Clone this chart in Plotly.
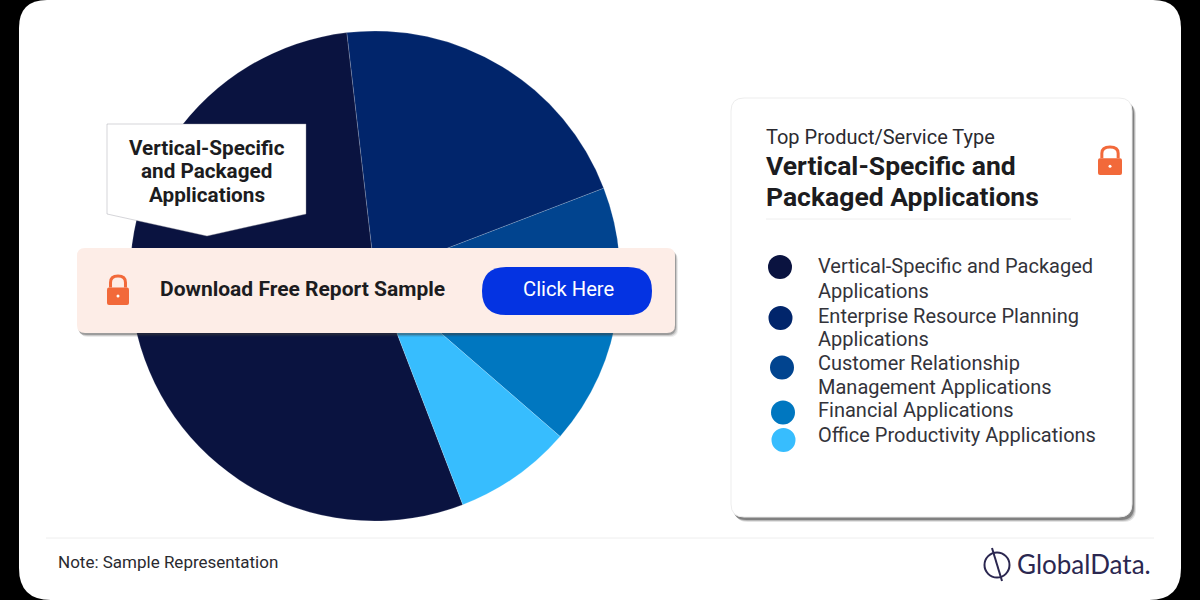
import plotly.graph_objects as go

categories = ["Vertical-Specific and Packaged Applications",
              "Enterprise Resource Planning Applications",
              "Customer Relationship Management Applications",
              "Financial Applications",
              "Office Productivity Applications"]
values = [54.0, 21.0, 7.9, 9.3, 7.8]
colors = ["#0A1340", "#01256B", "#01448F", "#0077C0", "#37BDFE"]
legend_lines = ["Vertical-Specific and Packaged", "Applications",
                "Enterprise Resource Planning", "Applications",
                "Customer Relationship", "Management Applications",
                "Financial Applications",
                "Office Productivity Applications"]
legend_line_y = [266, 291, 316, 339, 363, 387, 410, 435]
legend_dot = [(780, 267), (780.5, 318), (782, 367.5), (783, 412.5), (783.5, 440)]
callout_lines = ["Vertical-Specific", "and Packaged", "Applications"]
callout_y = [148, 171, 195]
title_lines = ["Vertical-Specific and", "Packaged Applications"]
title_y = [166, 196]

W, H = 1200, 600
FONT = "Roboto"
ORANGE = "#F2693A"


def X(v):
    return v / W


def Y(v):
    return 1 - v / H


def rr(x0, y0, x1, y1, r):
    """Rounded rectangle path in paper fractions; r is (tl, tr, br, bl) or a number."""
    tl, tr, br, bl = (r, r, r, r) if not isinstance(r, tuple) else r
    pts = [
        ("M", x0 + tl, y0), ("L", x1 - tr, y0), ("Q", x1, y0, x1, y0 + tr),
        ("L", x1, y1 - br), ("Q", x1, y1, x1 - br, y1),
        ("L", x0 + bl, y1), ("Q", x0, y1, x0, y1 - bl),
        ("L", x0, y0 + tl), ("Q", x0, y0, x0 + tl, y0),
    ]
    out = []
    for p in pts:
        c = p[0]
        co = p[1:]
        s = " ".join(f"{X(co[i]):.5f},{Y(co[i + 1]):.5f}" for i in range(0, len(co), 2))
        out.append(f"{c}{s}")
    return " ".join(out) + " Z"


def poly(points):
    return "M" + " L".join(f"{X(a):.5f},{Y(b):.5f}" for a, b in points) + " Z"


def path(d, fill, layer="above", line=None, lw=0):
    return dict(type="path", xref="paper", yref="paper", path=d, fillcolor=fill, layer=layer,
                line=dict(color=line or "rgba(0,0,0,0)", width=lw))


def circle(cx, cy, r, fill, line=None, lw=0, layer="above"):
    return dict(type="circle", xref="paper", yref="paper", x0=X(cx - r), x1=X(cx + r),
                y0=Y(cy + r), y1=Y(cy - r), fillcolor=fill, layer=layer,
                line=dict(color=line or "rgba(0,0,0,0)", width=lw))


def hline(x0, x1, y, color, width=1, layer="above"):
    return dict(type="line", xref="paper", yref="paper", x0=X(x0), x1=X(x1), y0=Y(y), y1=Y(y),
                layer=layer, line=dict(color=color, width=width))


def lock(x0, y0, x1, y1):
    mid = (x0 + x1) / 2
    w = x1 - x0
    h = y1 - y0
    top = y0 + h * 0.42
    inset = w * .16
    arc = (f"M{X(x0 + inset):.5f},{Y(top):.5f} L{X(x0 + inset):.5f},{Y(y0 + h * .25):.5f} "
           f"Q{X(x0 + inset):.5f},{Y(y0 + 1):.5f} {X(mid):.5f},{Y(y0 + 1):.5f} "
           f"Q{X(x1 - inset):.5f},{Y(y0 + 1):.5f} {X(x1 - inset):.5f},{Y(y0 + h * .25):.5f} "
           f"L{X(x1 - inset):.5f},{Y(top):.5f}")
    return [
        dict(type="path", xref="paper", yref="paper", path=arc, layer="above",
             line=dict(color=ORANGE, width=3), fillcolor="rgba(0,0,0,0)"),
        path(rr(x0, top, x1, y1, 2), ORANGE),
        circle(mid, y0 + h * 0.7, 1.5, "#FFFFFF"),
    ]


def shadow(x0, y0, x1, y1, r, dx, dy, a=1.0):
    return [path(rr(x0 + dx + k, y0 + dy + k, x1 + dx + k, y1 + dy + k, r), f"rgba(60,60,60,{a * b:.2f})")
            for k, b in [(2, .10), (1, .18), (0, .32)]]


shapes = [
    # card
    path(rr(19, 0, 1181, 600, (28, 28, 32, 32)), "#FFFFFF", layer="below"),
    hline(46, 1154, 538, "#EEEEEE", layer="below"),
]
# callout
shapes.append(path(poly([(107, 124), (306, 124), (306, 214), (207, 236), (107, 214)]), "#FFFFFF",
                   line="rgba(150,150,160,0.5)", lw=0.8))
# banner
shapes += shadow(77, 248, 675, 333, 8, 1, 2)
shapes.append(path(rr(77, 248, 675, 333, 8), "#FDEDE7"))
shapes.append(path(rr(482, 267, 652, 315, 24), "#0433E2"))
shapes += lock(107, 275, 129, 305)
# panel
shapes += shadow(731, 98, 1132, 517, 13, 2, 3, a=1.4)
shapes.append(path(rr(731, 98, 1132, 517, 13), "#FFFFFF", line="#EDEDED", lw=1))
shapes.append(hline(766, 1071, 219, "#EEEEEE"))
shapes += lock(1098, 146, 1122, 175)
for (cx, cy), c in zip(legend_dot, colors):
    shapes.append(circle(cx, cy, 12, c))
# logo mark
shapes.append(circle(997, 565, 12.5, "rgba(0,0,0,0)", line="#2B2750", lw=2))
shapes.append(dict(type="line", xref="paper", yref="paper", x0=X(992), x1=X(1002), y0=Y(548), y1=Y(581),
                   layer="above", line=dict(color="#2B2750", width=2)))


def text(x, y, s, size, color="#1C1C20", anchor="left", family=FONT):
    if anchor == "left":
        x -= 2
    return dict(xref="paper", yref="paper", x=X(x), y=Y(y), text=s, showarrow=False, xanchor=anchor,
                yanchor="middle", align=anchor, font=dict(family=family, size=size, color=color))


annotations = [
    text(160, 289, "<b>Download Free Report Sample</b>", 21),
    text(568, 289, "Click Here", 20.2, color="#FFFFFF", anchor="center"),
    text(766, 137, "Top Product/Service Type", 20, color="#2A2A30"),
    text(58, 562, "Note: Sample Representation", 17, color="#2A2A30"),
    text(1017, 564, "GlobalData.", 26, color="#2B2750", family="Lato"),
]
for s, y in zip(callout_lines, callout_y):
    annotations.append(text(207, y, f"<b>{s}</b>", 20.7, anchor="center"))
for s, y in zip(title_lines, title_y):
    annotations.append(text(766, y, f"<b>{s}</b>", 26.5))
for s, y in zip(legend_lines, legend_line_y):
    annotations.append(text(818, y, s, 20, color="#33333A"))

fig = go.Figure(go.Pie(
    labels=categories,
    values=values,
    sort=False,
    direction="clockwise",
    rotation=159,
    textinfo="none",
    hoverinfo="label+percent",
    marker=dict(colors=colors, line=dict(color="rgba(255,255,255,0.35)", width=0.5)),
    domain=dict(x=[X(130), X(620)], y=[Y(521), Y(31)]),
    showlegend=False,
))
fig.update_layout(width=W, height=H, margin=dict(l=0, r=0, t=0, b=0), autosize=False,
                  paper_bgcolor="#000000", plot_bgcolor="#000000", shapes=shapes,
                  annotations=annotations, showlegend=False)
fig.write_html("out.html", config={"displayModeBar": False},
               post_script="document.body.style.margin='0';document.body.style.overflow='hidden';")
